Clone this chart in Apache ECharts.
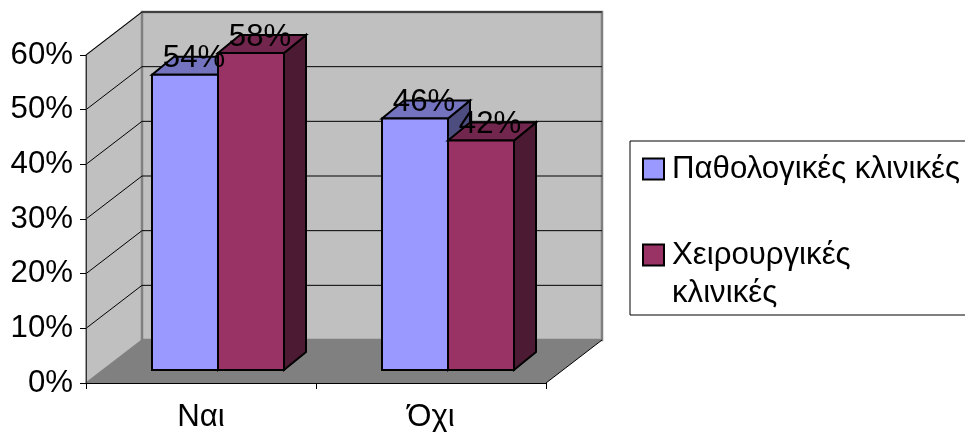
<!DOCTYPE html>
<html>
<head>
<meta charset="utf-8">
<style>
  html, body { margin: 0; padding: 0; background: #fff; overflow: hidden; }
  #chart { width: 965px; height: 432px; }
</style>
<script src="https://cdn.jsdelivr.net/npm/echarts@6/dist/echarts.min.js"></script>
</head>
<body>
<div id="chart"></div>
<script>
//数据
var categories = ['Ναι', 'Όχι'];
var seriesNames = ['Παθολογικές κλινικές', 'Χειρουργικές κλινικές'];
var pathValues = [54, 46];
var surgValues = [58, 42];
var gridValues = [10, 20, 30, 40, 50, 60];

var chart = echarts.init(document.getElementById('chart'));

var FONT = 'Liberation Sans';
var FONT_SIZE = 31.2;
var WALL = [56, -43];      // depth of the whole floor
var BAR_FRONT = [17, -13]; // where the bar front sits on the floor
var BAR_DEPTH = [22, -18];
var BAR_W = 66;

function poly(points, fill, stroke, lineWidth) {
    return {
        type: 'polygon',
        shape: { points: points },
        style: { fill: fill, stroke: stroke || null, lineWidth: lineWidth || 0, lineJoin: 'miter' }
    };
}

function line(p1, p2, stroke, lineWidth) {
    return {
        type: 'line',
        shape: { x1: p1[0], y1: p1[1], x2: p2[0], y2: p2[1] },
        style: { stroke: stroke, lineWidth: lineWidth }
    };
}

function plotBox(api) {
    var band = api.size([1, 0])[0];
    var bottom = api.coord([0, 0]);
    var top = api.coord([0, 60]);
    return { left: bottom[0] - band / 2, right: bottom[0] + band * 1.5, bottom: bottom[1], top: top[1] };
}

// back wall, side wall and floor
function renderWalls(params, api) {
    var b = plotBox(api);
    var dx = WALL[0], dy = WALL[1];
    return {
        type: 'group',
        children: [
            poly([[b.left, b.bottom], [b.left + dx, b.bottom + dy], [b.left + dx, b.top + dy], [b.left, b.top]], '#c0c0c0', '#808080', 1.5),
            poly([[b.left + dx, b.top + dy], [b.right + dx, b.top + dy], [b.right + dx, b.bottom + dy], [b.left + dx, b.bottom + dy]], '#c0c0c0', '#808080', 2.5),
            poly([[b.left, b.bottom], [b.right, b.bottom], [b.right + dx, b.bottom + dy], [b.left + dx, b.bottom + dy]], '#808080'),
            line([b.right, b.bottom], [b.right + dx, b.bottom + dy], '#000', 1)
        ]
    };
}

function renderGridLine(params, api) {
    var b = plotBox(api);
    var y = api.coord([0, api.value(1)])[1];
    return {
        type: 'group',
        children: [
            line([b.left, y], [b.left + WALL[0], y + WALL[1]], '#000', 1),
            line([b.left + WALL[0], y + WALL[1]], [b.right + WALL[0], y + WALL[1]], '#000', 1)
        ]
    };
}

function makeBarRender(side, front, top, right) {
    return function (params, api) {
        var cx = api.coord([api.value(0), 0])[0] + BAR_FRONT[0];
        var y0 = api.coord([api.value(0), 0])[1] + BAR_FRONT[1];
        var y1 = api.coord([api.value(0), api.value(1)])[1] + BAR_FRONT[1];
        var x0 = side < 0 ? cx - BAR_W : cx;
        var x1 = x0 + BAR_W;
        var dx = BAR_DEPTH[0], dy = BAR_DEPTH[1];
        var s = '#000';
        return {
            type: 'group',
            children: [
                poly([[x1, y1], [x1 + dx, y1 + dy], [x1 + dx, y0 + dy], [x1, y0]], right, s, 2),
                poly([[x0, y1], [x0 + dx, y1 + dy], [x1 + dx, y1 + dy], [x1, y1]], top, s, 2),
                poly([[x0, y1], [x1, y1], [x1, y0], [x0, y0]], front, s, 2)
            ]
        };
    };
}

function makeLabelRender(side) {
    return function (params, api) {
        var cx = api.coord([api.value(0), 0])[0] + BAR_FRONT[0] + side * BAR_W / 2;
        var y1 = api.coord([api.value(0), api.value(1)])[1] + BAR_FRONT[1];
        return {
            type: 'text',
            style: {
                text: api.value(1) + '%',
                x: cx + 9,
                y: y1 - 16,
                align: 'center',
                verticalAlign: 'middle',
                font: FONT_SIZE + 'px "' + FONT + '"',
                fill: '#000'
            }
        };
    };
}

function toData(values) {
    return values.map(function (v, i) { return [i, v]; });
}

var option = {
    animation: false,
    // labels run close to the window edge, do not let the plot shrink for them
    grid: { left: 86, top: 55, width: 460, height: 328, outerBoundsMode: 'none' },
    legend: {
        left: 630,
        top: 141,
        orient: 'vertical',
        data: seriesNames.map(function (n) { return { name: n, icon: 'rect' }; }),
        // blank first line keeps the swatch level with the first text line
        formatter: function (name) {
            return name === seriesNames[1] ? ' \nΧειρουργικές\nκλινικές' : name;
        },
        backgroundColor: '#fff',
        borderColor: '#000',
        borderWidth: 1,
        padding: [9, 30, 3, 12],
        itemGap: 10,
        itemWidth: 21,
        itemHeight: 21,
        selectedMode: false,
        textStyle: { fontFamily: FONT, fontSize: FONT_SIZE, lineHeight: 38, color: '#000', padding: [0, 0, 0, 3] }
    },
    xAxis: {
        type: 'category',
        data: categories,
        z: 10,
        axisLine: { lineStyle: { color: '#000', width: 1 } },
        axisTick: { show: true, length: 6, lineStyle: { color: '#000' } },
        axisLabel: { fontFamily: FONT, fontSize: FONT_SIZE, color: '#000', margin: 19 },
        splitLine: { show: false }
    },
    yAxis: {
        type: 'value',
        min: 0,
        max: 60,
        interval: 10,
        z: 10,
        axisLine: { show: true, lineStyle: { color: '#333', width: 1 } },
        axisTick: { show: true, length: 6, lineStyle: { color: '#000' } },
        axisLabel: { fontFamily: FONT, fontSize: FONT_SIZE, color: '#000', margin: 13, padding: [4, 0, 0, 0], formatter: '{value}%' },
        splitLine: { show: false }
    },
    series: [
        { type: 'custom', name: 'walls', z: 1, silent: true, data: [[0, 0]], renderItem: renderWalls },
        { type: 'custom', name: 'gridlines', z: 2, silent: true, data: toData(gridValues).map(function (d) { return [0, d[1]]; }), renderItem: renderGridLine },
        {
            type: 'custom',
            name: seriesNames[0],
            z: 3,
            itemStyle: { color: '#9999ff', borderColor: '#000', borderWidth: 2 },
            data: toData(pathValues),
            renderItem: makeBarRender(-1, '#9999ff', '#7373bf', '#4d4d80')
        },
        {
            type: 'custom',
            name: seriesNames[1],
            z: 4,
            itemStyle: { color: '#993366', borderColor: '#000', borderWidth: 2 },
            data: toData(surgValues),
            renderItem: makeBarRender(1, '#993366', '#73264d', '#4d1a33')
        },
        { type: 'custom', name: 'labels1', z: 20, silent: true, data: toData(pathValues), renderItem: makeLabelRender(-1) },
        { type: 'custom', name: 'labels2', z: 20, silent: true, data: toData(surgValues), renderItem: makeLabelRender(1) }
    ]
};

chart.setOption(option);
</script>
</body>
</html>
